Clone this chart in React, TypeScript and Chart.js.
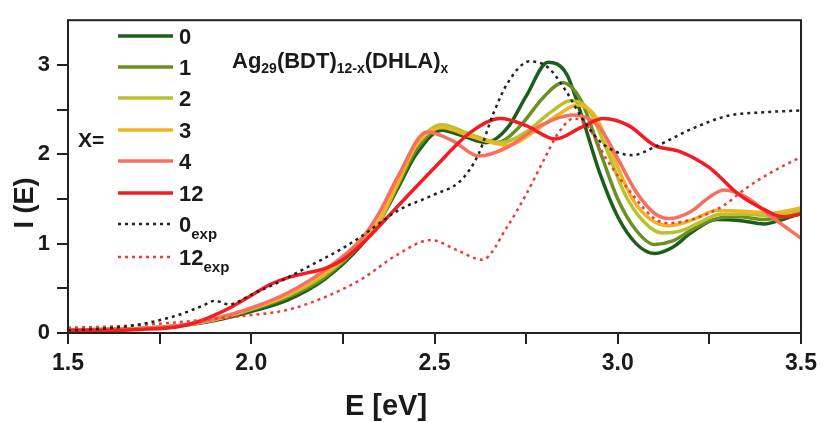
import React, { useEffect, useRef } from "react";
import { Chart, registerables } from "chart.js";

Chart.register(...registerables);

// ---- data (E in eV, intensity I(E)) ----
const E_x0 = [1.5, 1.6, 1.7, 1.8, 1.9, 2.0, 2.1, 2.2, 2.3, 2.35, 2.4, 2.45, 2.52, 2.58, 2.64, 2.7, 2.75, 2.81, 2.86, 2.9, 2.95, 3.0, 3.05, 3.1, 3.15, 3.2, 3.27, 3.33, 3.4, 3.45, 3.5];
const I_x0 = [0.03, 0.04, 0.05, 0.08, 0.14, 0.24, 0.37, 0.6, 0.98, 1.25, 1.62, 2.0, 2.27, 2.2, 2.13, 2.3, 2.65, 3.03, 2.9, 2.45, 1.8, 1.3, 1.0, 0.89, 0.96, 1.12, 1.27, 1.26, 1.22, 1.27, 1.34];

const E_x1 = [1.5, 1.6, 1.7, 1.8, 1.9, 2.0, 2.1, 2.2, 2.3, 2.35, 2.4, 2.45, 2.52, 2.6, 2.67, 2.73, 2.8, 2.85, 2.9, 2.95, 3.0, 3.05, 3.1, 3.15, 3.2, 3.27, 3.33, 3.4, 3.45, 3.5];
const I_x1 = [0.03, 0.04, 0.05, 0.08, 0.15, 0.26, 0.4, 0.62, 1.0, 1.25, 1.65, 2.05, 2.3, 2.2, 2.13, 2.3, 2.65, 2.8, 2.6, 2.05, 1.5, 1.15, 0.99, 1.03, 1.15, 1.28, 1.3, 1.27, 1.3, 1.36];

const E_x2 = [1.5, 1.6, 1.7, 1.8, 1.9, 2.0, 2.1, 2.2, 2.3, 2.35, 2.4, 2.45, 2.52, 2.6, 2.68, 2.75, 2.82, 2.87, 2.92, 2.97, 3.02, 3.07, 3.12, 3.17, 3.22, 3.28, 3.35, 3.42, 3.5];
const I_x2 = [0.03, 0.04, 0.05, 0.08, 0.15, 0.27, 0.42, 0.65, 1.0, 1.25, 1.68, 2.1, 2.33, 2.22, 2.13, 2.25, 2.48, 2.6, 2.5, 2.05, 1.55, 1.25, 1.12, 1.14, 1.23, 1.33, 1.33, 1.31, 1.38];

const E_x3 = [1.5, 1.6, 1.7, 1.8, 1.9, 2.0, 2.1, 2.2, 2.3, 2.35, 2.4, 2.45, 2.52, 2.6, 2.7, 2.77, 2.84, 2.89, 2.94, 2.99, 3.04, 3.09, 3.14, 3.2, 3.27, 3.35, 3.42, 3.5];
const I_x3 = [0.03, 0.04, 0.05, 0.08, 0.15, 0.27, 0.43, 0.67, 1.02, 1.27, 1.68, 2.1, 2.3, 2.2, 2.1, 2.25, 2.45, 2.55, 2.42, 1.95, 1.5, 1.27, 1.2, 1.26, 1.37, 1.36, 1.34, 1.4];

const E_x4 = [1.5, 1.6, 1.7, 1.8, 1.9, 2.0, 2.1, 2.2, 2.3, 2.35, 2.4, 2.48, 2.55, 2.62, 2.7, 2.78, 2.88, 2.95, 3.0, 3.05, 3.1, 3.14, 3.2, 3.25, 3.29, 3.35, 3.42, 3.5];
const I_x4 = [0.03, 0.04, 0.05, 0.08, 0.16, 0.28, 0.45, 0.7, 1.05, 1.35, 1.75, 2.25, 2.15, 1.98, 2.08, 2.3, 2.44, 2.3, 1.95, 1.58, 1.34, 1.28, 1.36, 1.52, 1.6, 1.52, 1.3, 1.06];

const E_x12 = [1.5, 1.6, 1.7, 1.8, 1.85, 1.9, 1.95, 2.0, 2.05, 2.1, 2.15, 2.2, 2.25, 2.3, 2.4, 2.5, 2.6, 2.68, 2.75, 2.83, 2.9, 2.96, 3.03, 3.1, 3.17, 3.25, 3.33, 3.4, 3.45, 3.5];
const I_x12 = [0.03, 0.03, 0.04, 0.07, 0.12, 0.2, 0.3, 0.42, 0.54, 0.62, 0.67, 0.72, 0.82, 0.99, 1.42, 1.85, 2.25, 2.4, 2.32, 2.17, 2.3, 2.4, 2.32, 2.1, 2.03, 1.85, 1.55, 1.38, 1.3, 1.33];

const E_exp0 = [1.5, 1.6, 1.7, 1.8, 1.87, 1.9, 1.94, 2.0, 2.08, 2.15, 2.25, 2.3, 2.4, 2.5, 2.57, 2.62, 2.66, 2.7, 2.76, 2.81, 2.86, 2.9, 2.95, 3.0, 3.04, 3.1, 3.2, 3.3, 3.4, 3.5];
const I_exp0 = [0.03, 0.05, 0.1, 0.2, 0.31, 0.36, 0.32, 0.43, 0.58, 0.73, 0.95, 1.08, 1.37, 1.55, 1.7, 2.0, 2.45, 2.8, 3.04, 2.97, 2.7, 2.42, 2.15, 2.02, 1.99, 2.08, 2.28, 2.43, 2.47, 2.49];

const E_exp12 = [1.5, 1.6, 1.7, 1.8, 1.9, 2.0, 2.1, 2.2, 2.3, 2.4, 2.49, 2.56, 2.63, 2.7, 2.75, 2.8, 2.84, 2.88, 2.92, 2.97, 3.04, 3.1, 3.14, 3.21, 3.29, 3.35, 3.42, 3.5];
const I_exp12 = [0.06, 0.07, 0.09, 0.12, 0.16, 0.2, 0.26, 0.4, 0.6, 0.88, 1.04, 0.93, 0.82, 1.2, 1.55, 1.95, 2.25, 2.4, 2.3, 1.94, 1.55, 1.28, 1.23, 1.28, 1.43, 1.62, 1.8, 1.97];

const seriesLabels = ["0", "1", "2", "3", "4", "12", "0", "12"];
const seriesSubs = ["", "", "", "", "", "", "exp", "exp"];
const seriesColors = ["#1d5e1d", "#6c8f25", "#b8c22c", "#f2b323", "#f7705f", "#f21c22", "#222222", "#f03a3a"];
const X_TICK_LABELS = [1.5, 2.0, 2.5, 3.0, 3.5];
const Y_TICK_LABELS = [0, 1, 2, 3];

const FONT = "'Liberation Sans', Arial, sans-serif";

function xy(es: number[], is: number[]) {
  return es.map((e, k) => ({ x: e, y: is[k] }));
}

function drawRuns(ctx: CanvasRenderingContext2D, x: number, y: number, runs: [string, boolean][], size: number, subSize: number, subDrop: number) {
  let cx = x;
  for (const [t, sub] of runs) {
    ctx.font = `bold ${sub ? subSize : size}px ${FONT}`;
    ctx.fillText(t, cx, sub ? y + subDrop : y);
    cx += ctx.measureText(t).width;
  }
}

const overlayPlugin = {
  id: "overlay",
  afterDraw(chart: any) {
    const ctx: CanvasRenderingContext2D = chart.ctx;
    const a = chart.chartArea;
    ctx.save();
    // frame
    ctx.strokeStyle = "#222";
    ctx.lineWidth = 2;
    ctx.strokeRect(a.left, a.top, a.right - a.left, a.bottom - a.top);

    ctx.fillStyle = "#1a1a1a";
    ctx.textBaseline = "alphabetic";
    // axis titles
    ctx.font = `bold 29px ${FONT}`;
    ctx.textAlign = "center";
    ctx.fillText("E [eV]", 386, 415);
    ctx.save();
    ctx.translate(33, 203);
    ctx.rotate(-Math.PI / 2);
    ctx.font = `bold 27px ${FONT}`;
    ctx.fillText("I (E)", 0, 0);
    ctx.restore();

    // legend
    ctx.textAlign = "left";
    const rows = [36, 67, 98, 130, 161, 193, 224, 257];
    const ds = chart.data.datasets;
    for (let k = 0; k < rows.length; k++) {
      const y = rows[k];
      const d = ds[k];
      ctx.save();
      ctx.strokeStyle = d.borderColor;
      ctx.lineWidth = d.borderWidth;
      ctx.setLineDash(d.borderDash || []);
      ctx.beginPath();
      ctx.moveTo(118, y);
      ctx.lineTo(173, y);
      ctx.stroke();
      ctx.restore();
      const runs: [string, boolean][] = [[seriesLabels[k], false]];
      if (seriesSubs[k]) runs.push([seriesSubs[k], true]);
      drawRuns(ctx, 179, y + 8, runs, 22, 15, 7);
    }
    ctx.font = `bold 21px ${FONT}`;
    ctx.fillText("X=", 78, 147);

    // compound title
    drawRuns(
      ctx,
      232,
      68,
      [
        ["Ag", false],
        ["29", true],
        ["(BDT)", false],
        ["12-x", true],
        ["(DHLA)", false],
        ["x", true],
      ],
      22,
      14,
      5
    );
    ctx.restore();
  },
};

export default function App() {
  const ref = useRef<HTMLCanvasElement | null>(null);
  useEffect(() => {
    if (!ref.current) return;
    const mk = (es: number[], is: number[], k: number, dashed: boolean, order: number) => ({
      label: seriesLabels[k] + seriesSubs[k],
      data: xy(es, is),
      borderColor: seriesColors[k],
      backgroundColor: seriesColors[k],
      borderWidth: dashed ? 2.5 : 3.5,
      borderDash: dashed ? [3, 4] : undefined,
      pointRadius: 0,
      fill: false,
      cubicInterpolationMode: "monotone" as const,
      order,
    });
    const chart = new Chart(ref.current, {
      type: "line",
      data: {
        datasets: [
          mk(E_x0, I_x0, 0, false, 7),
          mk(E_x1, I_x1, 1, false, 6),
          mk(E_x2, I_x2, 2, false, 5),
          mk(E_x3, I_x3, 3, false, 4),
          mk(E_x4, I_x4, 4, false, 3),
          mk(E_x12, I_x12, 5, false, 2),
          mk(E_exp0, I_exp0, 6, true, 0),
          mk(E_exp12, I_exp12, 7, true, 1),
        ] as any,
      },
      options: {
        animation: false,
        responsive: false,
        layout: { padding: { left: 0, top: 14, right: 17, bottom: 0 } },
        plugins: { legend: { display: false }, tooltip: { enabled: false } },
        scales: {
          x: {
            type: "linear",
            min: 1.5,
            max: 3.5,
            afterFit: (s: any) => {
              s.height = 89;
            },
            border: { display: false },
            grid: { drawOnChartArea: false, drawTicks: true, tickLength: 11, color: "#222", lineWidth: 2 },
            ticks: {
              stepSize: 0.25,
              autoSkip: false,
              maxRotation: 0,
              padding: 6,
              color: "#1a1a1a",
              font: { family: FONT, size: 23, weight: "bold" },
              callback: (v: any) => {
                const n = Number(v);
                return X_TICK_LABELS.some((t) => Math.abs(t - n) < 1e-6) ? n.toFixed(1) : "";
              },
            },
          },
          y: {
            type: "linear",
            min: 0,
            max: 3.5,
            afterFit: (s: any) => {
              s.width = 68;
            },
            afterBuildTicks: (s: any) => {
              s.ticks = s.ticks.filter((t: any) => t.value < 3.49);
            },
            border: { display: false },
            grid: { drawOnChartArea: false, drawTicks: true, tickLength: 11, color: "#222", lineWidth: 2 },
            ticks: {
              stepSize: 0.5,
              autoSkip: false,
              padding: 7,
              color: "#1a1a1a",
              font: { family: FONT, size: 22, weight: "bold" },
              callback: (v: any) => {
                const n = Number(v);
                return Y_TICK_LABELS.some((t) => Math.abs(t - n) < 1e-6) ? String(n) : "";
              },
            },
          },
        },
      },
      plugins: [overlayPlugin],
    });
    return () => chart.destroy();
  }, []);
  return (
    <div style={{ position: "absolute", left: 0, top: 0, width: 823, height: 422, background: "#fff" }}>
      <canvas ref={ref} width={823} height={422} />
    </div>
  );
}
